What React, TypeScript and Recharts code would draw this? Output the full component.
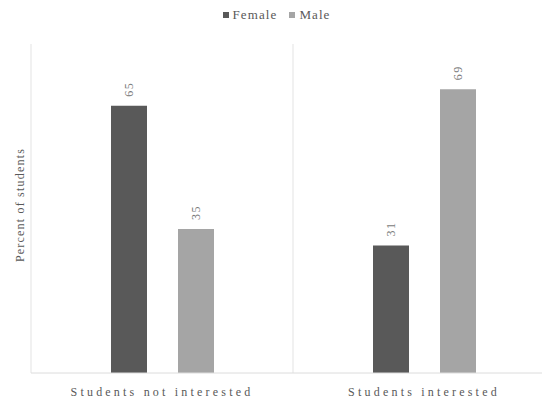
import React from "react";
import { BarChart, Bar, XAxis, YAxis, CartesianGrid, Legend, LabelList } from "recharts";

const categories = ["Students not interested", "Students interested"];
const female = [65, 31];
const male = [35, 69];
const seriesNames = ["Female", "Male"];
const colors = ["#595959", "#a5a5a5"];

const data = categories.map((c, i) => ({ name: c, idx: i + 0.5, Female: female[i], Male: male[i] }));

const FONT = "'Liberation Serif', serif";

const RotLabel = (props: any) => {
  const { x, y, width, value } = props;
  const cx = x + width / 2 + 4;
  const cy = y - 9;
  return (
    <text x={cx} y={cy} transform={`rotate(-90, ${cx}, ${cy})`} textAnchor="start" fill="#7a7a7a" fontSize={12} letterSpacing={1.5} style={{ fontFamily: FONT }}>
      {value}
    </text>
  );
};

const LegendContent = (props: any) => {
  const { payload } = props;
  return (
    <div style={{ display: "flex", justifyContent: "center", height: 16, lineHeight: "16px", fontFamily: FONT, fontSize: 13, letterSpacing: 1.1, color: "#595959", marginLeft: -21 }}>
      {payload.map((p: any) => (
        <span key={p.value} style={{ display: "inline-flex", alignItems: "center", marginRight: 12 }}>
          <span style={{ display: "inline-block", width: 6, height: 6, background: p.color, marginRight: 4 }} />
          {p.value}
        </span>
      ))}
    </div>
  );
};

export default function App() {
  return (
    <div style={{ position: "absolute", left: 0, top: 0, width: 542, height: 402, overflow: "hidden", background: "#fff", fontFamily: FONT }}>
      <BarChart width={580} height={402} data={data} margin={{ top: 28, right: 25, bottom: 0, left: 31 }} barGap={31} style={{ fontFamily: FONT }}>
        <XAxis xAxisId="b" dataKey="idx" type="number" domain={[0, 2]} ticks={[0, 1, 2]} hide />
        <CartesianGrid xAxisId="b" horizontal={false} stroke="#e3e3e3" />
        <XAxis
          dataKey="name"
          height={29}
          axisLine={{ stroke: "#dcdcdc" }}
          tickLine={false}
          tick={{ fill: "#595959", fontSize: 12, style: { fontFamily: FONT }, letterSpacing: 3.2 }}
          dy={6}
        />
        <YAxis hide domain={[0, 80]} width={0} />
        <text x={24} y={205} transform="rotate(-90, 24, 205)" textAnchor="middle" fill="#595959" fontSize={12} letterSpacing={1.2} style={{ fontFamily: FONT }}>
          Percent of students
        </text>
        <Legend verticalAlign="top" content={<LegendContent />} wrapperStyle={{ top: 7 }} />
        {seriesNames.map((s, i) => (
          <Bar key={s} dataKey={s} fill={colors[i]} barSize={36} isAnimationActive={false}>
            <LabelList dataKey={s} content={<RotLabel />} />
          </Bar>
        ))}
      </BarChart>
    </div>
  );
}
